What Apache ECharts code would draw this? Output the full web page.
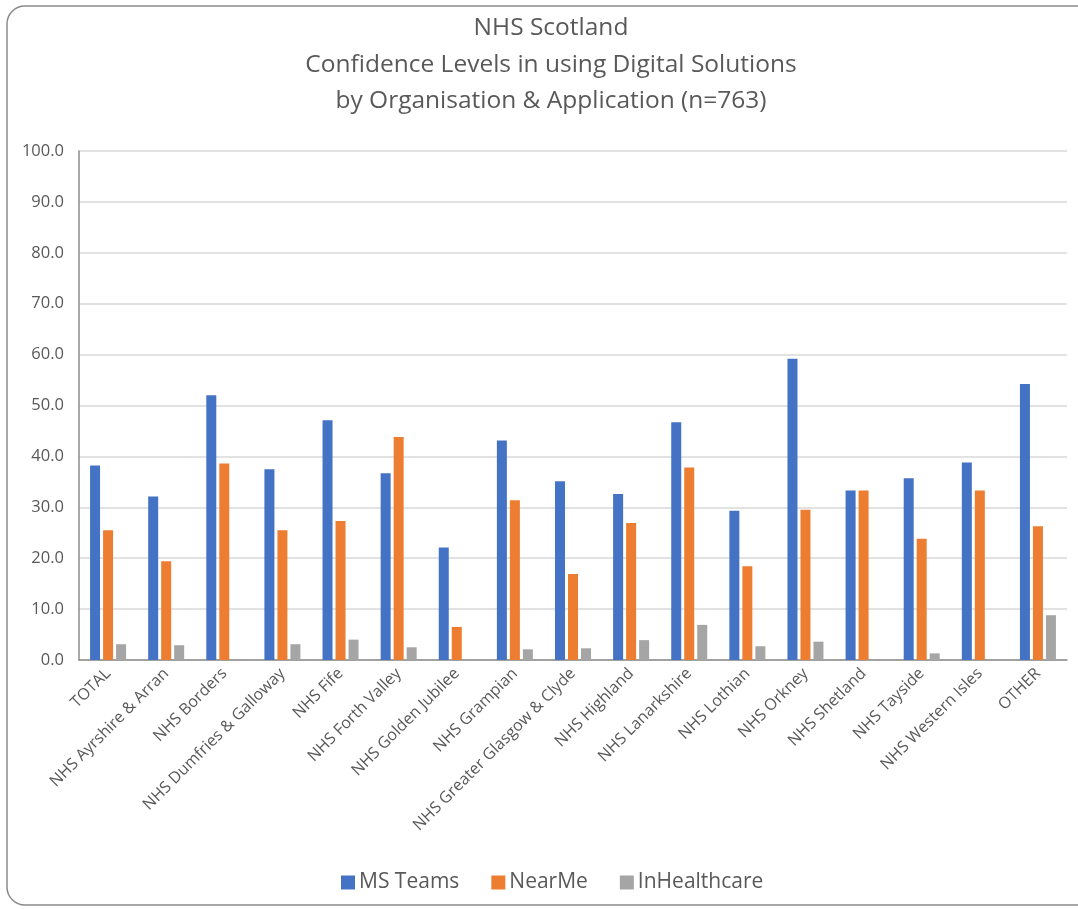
<!DOCTYPE html>
<html>
<head>
<meta charset="utf-8">
<script src="https://cdn.jsdelivr.net/npm/echarts@6/dist/echarts.min.js"></script>
<style>
  html, body { margin: 0; padding: 0; background: #fff; }
  #chart { width: 1078px; height: 909px; }
</style>
</head>
<body>
<div id="chart"></div>
<script>
// organisations on the x axis
var categories = [
  'TOTAL', 'NHS Ayrshire & Arran', 'NHS Borders', 'NHS Dumfries & Galloway',
  'NHS Fife', 'NHS Forth Valley', 'NHS Golden Jubilee', 'NHS Grampian',
  'NHS Greater Glasgow & Clyde', 'NHS Highland', 'NHS Lanarkshire', 'NHS Lothian',
  'NHS Orkney', 'NHS Shetland', 'NHS Tayside', 'NHS Western Isles', 'OTHER'
];
var msTeams     = [38.2, 32.1, 52.0, 37.5, 47.1, 36.7, 22.1, 43.1, 35.1, 32.6, 46.7, 29.3, 59.2, 33.3, 35.7, 38.8, 54.2];
var nearMe      = [25.5, 19.4, 38.6, 25.5, 27.3, 43.8, 6.5, 31.4, 16.9, 26.9, 37.8, 18.4, 29.5, 33.3, 23.8, 33.3, 26.3];
var inHealthcare = [3.1, 2.9, 0, 3.1, 4.0, 2.5, 0, 2.1, 2.3, 3.9, 6.9, 2.7, 3.6, 0, 1.3, 0, 8.8];
var titleLines = [
  'NHS Scotland',
  'Confidence Levels in using Digital Solutions',
  'by Organisation & Application (n=763)'
];

var txt = '#595959';
var font = '"Open Sans", "Noto Sans", sans-serif';

var chart = echarts.init(document.getElementById('chart'));

function bar(name, data, color) {
  return {
    name: name,
    type: 'bar',
    data: data,
    barWidth: 10,
    barGap: '30%',
    itemStyle: { color: color },
    emphasis: { disabled: true }
  };
}

var option = {
  animation: false,
  textStyle: { fontFamily: font },
  graphic: [{
    type: 'rect',
    shape: { x: 7, y: 6, width: 1090, height: 899, r: 18 },
    style: { fill: 'none', stroke: '#8a8a8a', lineWidth: 1.5 },
    z: -1
  }],
  title: {
    text: titleLines.join('\n'),
    left: 546,
    textAlign: 'center',
    top: 5,
    textStyle: {
      color: txt,
      fontSize: 24.5,
      fontWeight: 'normal',
      lineHeight: 36.5,
      fontFamily: font
    }
  },
  legend: {
    bottom: 11,
    left: 336,
    itemWidth: 14,
    itemHeight: 14,
    itemGap: 32,
    icon: 'rect',
    textStyle: { color: txt, fontSize: 21, padding: [0, 0, 0, -1] }
  },
  grid: { left: 79, right: 11, top: 151, bottom: 249 },
  xAxis: {
    type: 'category',
    data: categories,
    axisLine: { lineStyle: { color: '#8c8c8c', width: 1.5 } },
    axisTick: { show: false },
    axisLabel: {
      rotate: 45,
      interval: 0,
      color: txt,
      fontSize: 16,
      margin: 11
    }
  },
  yAxis: {
    type: 'value',
    min: 0,
    max: 100,
    interval: 10,
    axisLine: { show: true, lineStyle: { color: '#8c8c8c', width: 1.5 } },
    axisTick: { show: false },
    splitLine: { lineStyle: { color: '#d9d9d9', width: 1.5 } },
    axisLabel: {
      color: txt,
      fontSize: 16.5,
      margin: 15,
      formatter: function (v) { return v.toFixed(1); }
    }
  },
  series: [
    bar('MS Teams', msTeams, '#4472C4'),
    bar('NearMe', nearMe, '#ED7D31'),
    bar('InHealthcare', inHealthcare, '#A5A5A5')
  ]
};

chart.setOption(option);
</script>
</body>
</html>
